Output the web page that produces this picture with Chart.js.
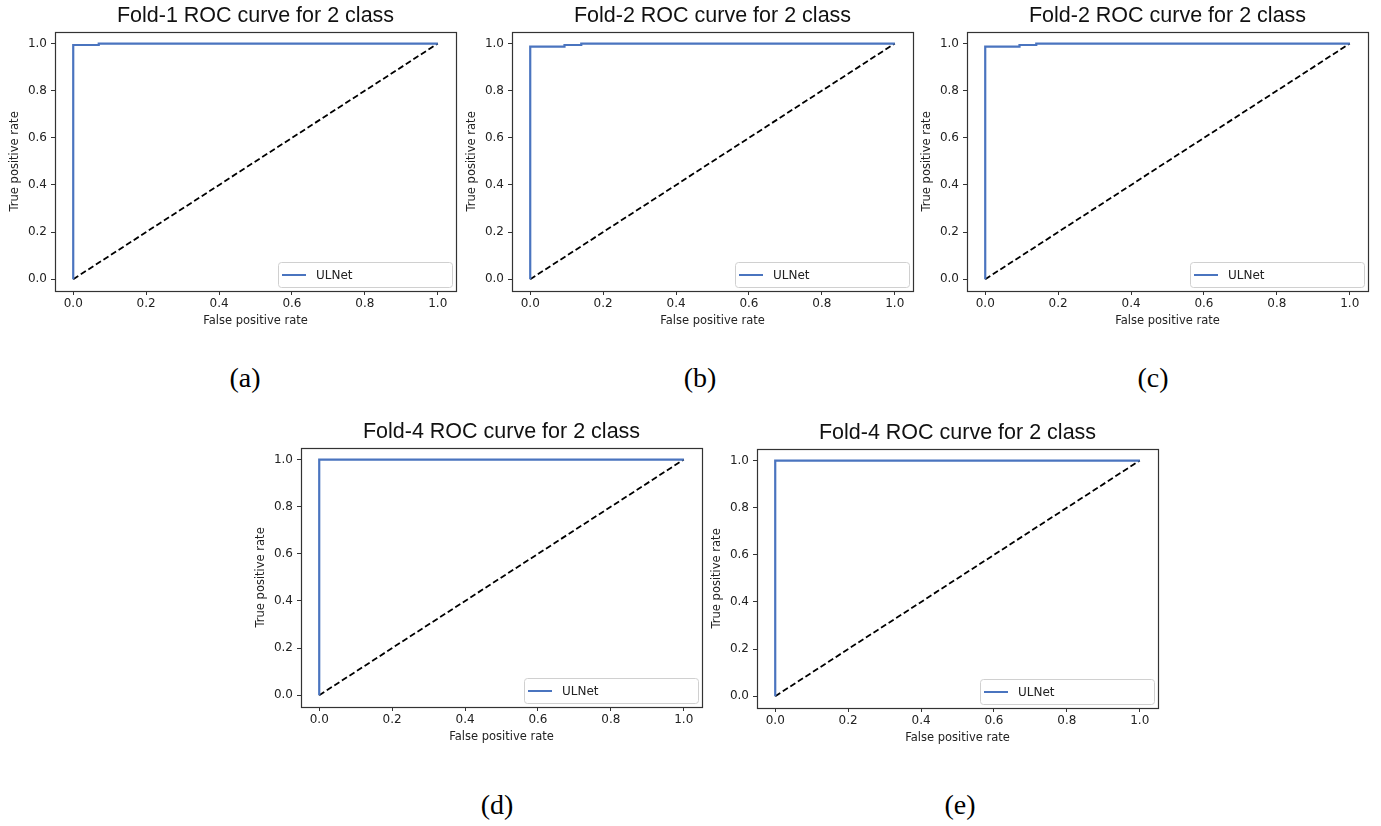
<!DOCTYPE html>
<html>
<head>
<meta charset="utf-8">
<script src="https://cdn.jsdelivr.net/npm/chart.js@4.4.1/dist/chart.umd.min.js"></script>
<style>
    body { margin: 0; background: #fff; }
    #page { position: relative; width: 1381px; height: 826px; overflow: hidden; }
    .panel { position: absolute; width: 460px; height: 330px; }
    .caption { position: absolute; font-family: 'Liberation Serif', 'Times New Roman', serif; font-size: 28px; color: #000; transform: translate(-50%, -50%); }
</style>
</head>
<body>
<div id="page">
    <div class="panel" style="left:0px;top:0px"><canvas id="chartA"></canvas></div>
    <div class="panel" style="left:457px;top:0px"><canvas id="chartB"></canvas></div>
    <div class="panel" style="left:912px;top:0px"><canvas id="chartC"></canvas></div>
    <div class="panel" style="left:246px;top:416px"><canvas id="chartD"></canvas></div>
    <div class="panel" style="left:702px;top:417px"><canvas id="chartE"></canvas></div>

    <div class="caption" style="left:245px;top:378px">(a)</div>
    <div class="caption" style="left:700px;top:378px">(b)</div>
    <div class="caption" style="left:1153px;top:378px">(c)</div>
    <div class="caption" style="left:497px;top:805px">(d)</div>
    <div class="caption" style="left:960px;top:805px">(e)</div>
</div>

<script>
// axis ticks (both axes)
var rateTicks = [0.0, 0.2, 0.4, 0.6, 0.8, 1.0];

// chance line
var chanceFpr = [0, 1];
var chanceTpr = [0, 1];

// ROC curves
var fold1Fpr = [0, 0, 0.07, 0.07, 1];
var fold1Tpr = [0, 0.994, 0.994, 1, 1];

var fold2Fpr = [0, 0, 0.094, 0.094, 0.14, 0.14, 1];
var fold2Tpr = [0, 0.987, 0.987, 0.994, 0.994, 1, 1];

var fold3Fpr = [0, 0, 0.094, 0.094, 0.14, 0.14, 1];
var fold3Tpr = [0, 0.987, 0.987, 0.994, 0.994, 1, 1];

var fold4Fpr = [0, 0, 1];
var fold4Tpr = [0, 1, 1];

var fold5Fpr = [0, 0, 1];
var fold5Tpr = [0, 1, 1];

var panelTitles = [
    'Fold-1 ROC curve for 2 class',
    'Fold-2 ROC curve for 2 class',
    'Fold-2 ROC curve for 2 class',
    'Fold-4 ROC curve for 2 class',
    'Fold-4 ROC curve for 2 class'
];
var modelName = 'ULNet';

var blue = '#4a74bf';
var axisColor = '#333';

function toPoints(xs, ys) {
    return xs.map(function (x, i) { return {x: x, y: ys[i]}; });
}

// axes frame + matplotlib style legend box in the lower right
var framePlugin = {
    id: 'frame',
    afterDraw: function (chart) {
        var ctx = chart.ctx;
        var a = chart.chartArea;
        ctx.save();
        ctx.strokeStyle = axisColor;
        ctx.lineWidth = 1.2;
        ctx.strokeRect(Math.round(a.left) + 0.5, Math.round(a.top) + 0.5,
            Math.round(a.right - a.left), Math.round(a.bottom - a.top));

        var w = 174, h = 25;
        var x = Math.round(a.right - 4 - w), y = Math.round(a.bottom - 4 - h);
        ctx.beginPath();
        ctx.roundRect(x + 0.5, y + 0.5, w, h, 3);
        ctx.fillStyle = 'rgba(255,255,255,0.8)';
        ctx.fill();
        ctx.strokeStyle = '#d0d0d0';
        ctx.lineWidth = 1;
        ctx.stroke();

        ctx.beginPath();
        ctx.moveTo(x + 4, y + h / 2 + 0.5);
        ctx.lineTo(x + 28, y + h / 2 + 0.5);
        ctx.strokeStyle = blue;
        ctx.lineWidth = 2;
        ctx.stroke();

        ctx.fillStyle = '#222';
        ctx.font = '12px "DejaVu Sans"';
        ctx.textBaseline = 'middle';
        ctx.fillText(modelName, x + 38, y + h / 2 + 1);
        ctx.restore();
    }
};

function rateAxis(titleText, isX) {
    return {
        type: 'linear',
        min: -0.05,
        max: 1.05,
        afterBuildTicks: function (scale) {
            scale.ticks = rateTicks.map(function (v) { return {value: v}; });
        },
        // fixed axis band sizes, like matplotlib's fixed subplot box
        afterFit: function (scale) {
            if (isX) scale.height = 39;
            else scale.width = 55;
        },
        ticks: {
            color: '#222',
            font: {family: 'DejaVu Sans', size: 12},
            padding: isX ? 2 : 4,
            callback: function (v) { return Number(v).toFixed(1); }
        },
        grid: {
            display: true,
            drawOnChartArea: false,
            drawTicks: true,
            tickLength: 4,
            tickColor: axisColor
        },
        border: {display: false},
        title: {
            display: true,
            text: titleText,
            color: '#222',
            font: {family: 'DejaVu Sans', size: 11.5},
            padding: isX ? {top: 0, bottom: 2} : {top: 8, bottom: 0}
        }
    };
}

function makeRoc(canvasId, title, fpr, tpr) {
    new Chart(document.getElementById(canvasId), {
        type: 'line',
        data: {
            datasets: [
                {
                    label: modelName,
                    data: toPoints(fpr, tpr),
                    borderColor: blue,
                    borderWidth: 2.2,
                    pointRadius: 0,
                    tension: 0,
                    fill: false
                },
                {
                    label: 'chance',
                    data: toPoints(chanceFpr, chanceTpr),
                    borderColor: '#000',
                    borderWidth: 1.8,
                    borderDash: [6, 3],
                    pointRadius: 0,
                    tension: 0,
                    fill: false
                }
            ]
        },
        options: {
            responsive: true,
            maintainAspectRatio: false,
            animation: false,
            layout: {padding: {left: 0, right: 4, top: 0, bottom: 0}},
            plugins: {
                title: {
                    display: true,
                    fullSize: false,
                    text: title,
                    color: '#111',
                    font: {family: 'Liberation Sans', size: 21.5, weight: 'normal'},
                    padding: {top: 3, bottom: 3}
                },
                legend: {display: false},
                tooltip: {enabled: false}
            },
            scales: {
                x: rateAxis('False positive rate', true),
                y: rateAxis('True positive rate', false)
            }
        },
        plugins: [framePlugin]
    });
}

makeRoc('chartA', panelTitles[0], fold1Fpr, fold1Tpr);
makeRoc('chartB', panelTitles[1], fold2Fpr, fold2Tpr);
makeRoc('chartC', panelTitles[2], fold3Fpr, fold3Tpr);
makeRoc('chartD', panelTitles[3], fold4Fpr, fold4Tpr);
makeRoc('chartE', panelTitles[4], fold5Fpr, fold5Tpr);
</script>
</body>
</html>
